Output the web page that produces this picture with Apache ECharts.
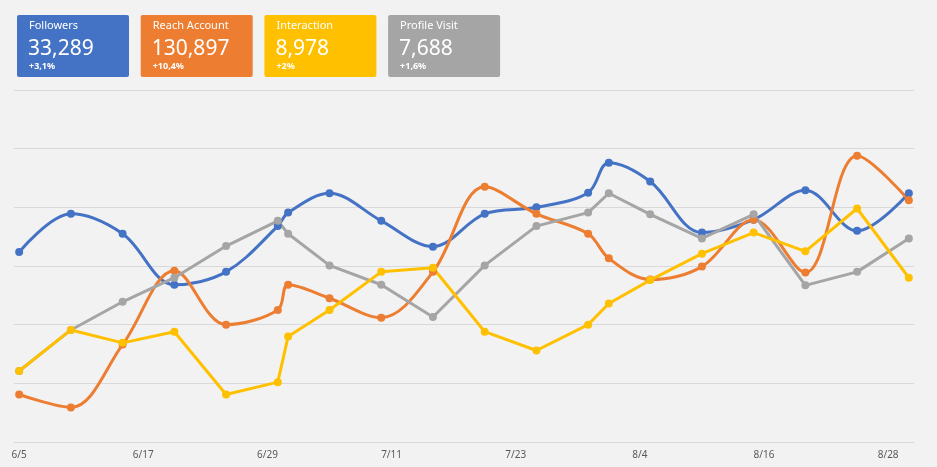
<!DOCTYPE html>
<html>
<head>
<meta charset="utf-8">
<script src="https://cdn.jsdelivr.net/npm/echarts@6/dist/echarts.min.js"></script>
<style>
  html, body { margin: 0; padding: 0; background: #f2f2f2; }
  #chart { width: 937px; height: 467px; }
</style>
</head>
<body>
<div id="chart"></div>
<script>
// dates that have a measurement (each series shares them)
const pointDates = ["6/5", "6/10", "6/15", "6/20", "6/25", "6/30", "7/1", "7/5", "7/10", "7/15",
  "7/20", "7/25", "7/30", "8/1", "8/5", "8/10", "8/15", "8/20", "8/25", "8/30"];

const followers = [32.4, 38.9, 35.5, 26.8, 29.0, 36.8, 39.1, 42.4, 37.7, 33.3,
  38.9, 40.0, 42.5, 47.6, 44.4, 35.7, 37.9, 42.9, 36.0, 42.4];
const reachAccount = [8.1, 5.9, 16.6, 29.2, 20.0, 22.5, 26.8, 24.5, 21.2, 29.0,
  43.5, 38.9, 35.5, 31.3, 27.7, 29.9, 37.9, 28.9, 48.8, 41.2];
const interaction = [12.1, 19.1, 16.9, 18.8, 8.1, 10.2, 18.0, 22.5, 29.0, 29.7,
  18.8, 15.6, 20.0, 23.6, 27.6, 32.1, 35.7, 32.5, 39.8, 28.0];
const profileVisit = [12.1, 19.1, 23.9, 28.0, 33.4, 37.7, 35.5, 30.1, 26.8, 21.3,
  30.1, 36.8, 39.1, 42.4, 38.8, 34.7, 38.8, 26.7, 29.0, 34.7];

const cardTitles = ["Followers", "Reach Account", "Interaction", "Profile Visit"];
const cardValues = ["33,289", "130,897", "8,978", "7,688"];
const cardChanges = ["+3,1%", "+10,4%", "+2%", "+1,6%"];

const colors = ["#4472C4", "#ED7D31", "#FFC000", "#A5A5A5"];
const FONT = "'Noto Sans', 'Open Sans', sans-serif";

// every day on the axis, 6/5 .. 8/30
const days = [];
for (let d = new Date(2000, 5, 5); d <= new Date(2000, 7, 30); d.setDate(d.getDate() + 1)) {
  days.push(d.getMonth() + 1 + "/" + d.getDate());
}

const chart = echarts.init(document.getElementById("chart"));

const cards = cardTitles.map((title, i) => {
  const x = 17 + i * 123.7;
  return {
    type: "group",
    left: x,
    top: 15,
    children: [
      { type: "rect", shape: { x: 0, y: 0, width: 112, height: 62, r: 2 }, style: { fill: colors[i] } },
      { type: "text", x: 12, y: 11, style: { text: title, fill: "#fff", font: "11px " + FONT, verticalAlign: "middle" } },
      { type: "text", x: 11, y: 34, style: { text: cardValues[i], fill: "#fff", font: "21px " + FONT, verticalAlign: "middle" } },
      { type: "text", x: 12, y: 51, style: { text: cardChanges[i], fill: "#fff", font: "bold 9px " + FONT, verticalAlign: "middle" } },
    ],
  };
});

const makeSeries = (name, values, color, smooth) => ({
  name: name,
  type: "line",
  smooth: smooth,
  data: pointDates.map((d, i) => [d, values[i]]),
  symbol: "circle",
  symbolSize: 8,
  showAllSymbol: true,
  lineStyle: { width: 3, color: color },
  itemStyle: { color: color },
});

const option = {
  animation: false,
  backgroundColor: "#f2f2f2",
  graphic: cards,
  grid: { left: 14, right: 23, top: 90, bottom: 25 },
  xAxis: {
    type: "category",
    data: days,
    boundaryGap: true,
    axisLine: { lineStyle: { color: "#d9d9d9", width: 1 } },
    axisTick: { interval: 11, length: 4, lineStyle: { color: "#d9d9d9" } },
    axisLabel: { interval: 11, color: "#595959", fontSize: 10, fontFamily: FONT, margin: 8 },
  },
  yAxis: {
    type: "value",
    min: 0,
    max: 60,
    interval: 10,
    axisLabel: { show: false },
    axisLine: { show: false },
    axisTick: { show: false },
    splitLine: { lineStyle: { color: "#d9d9d9", width: 1 } },
  },
  // gray is drawn below yellow, as in the original
  series: [
    makeSeries("Followers", followers, colors[0], 0.35),
    makeSeries("Reach Account", reachAccount, colors[1], 0.35),
    makeSeries("Profile Visit", profileVisit, colors[3], false),
    makeSeries("Interaction", interaction, colors[2], false),
  ],
};

chart.setOption(option);
</script>
</body>
</html>
